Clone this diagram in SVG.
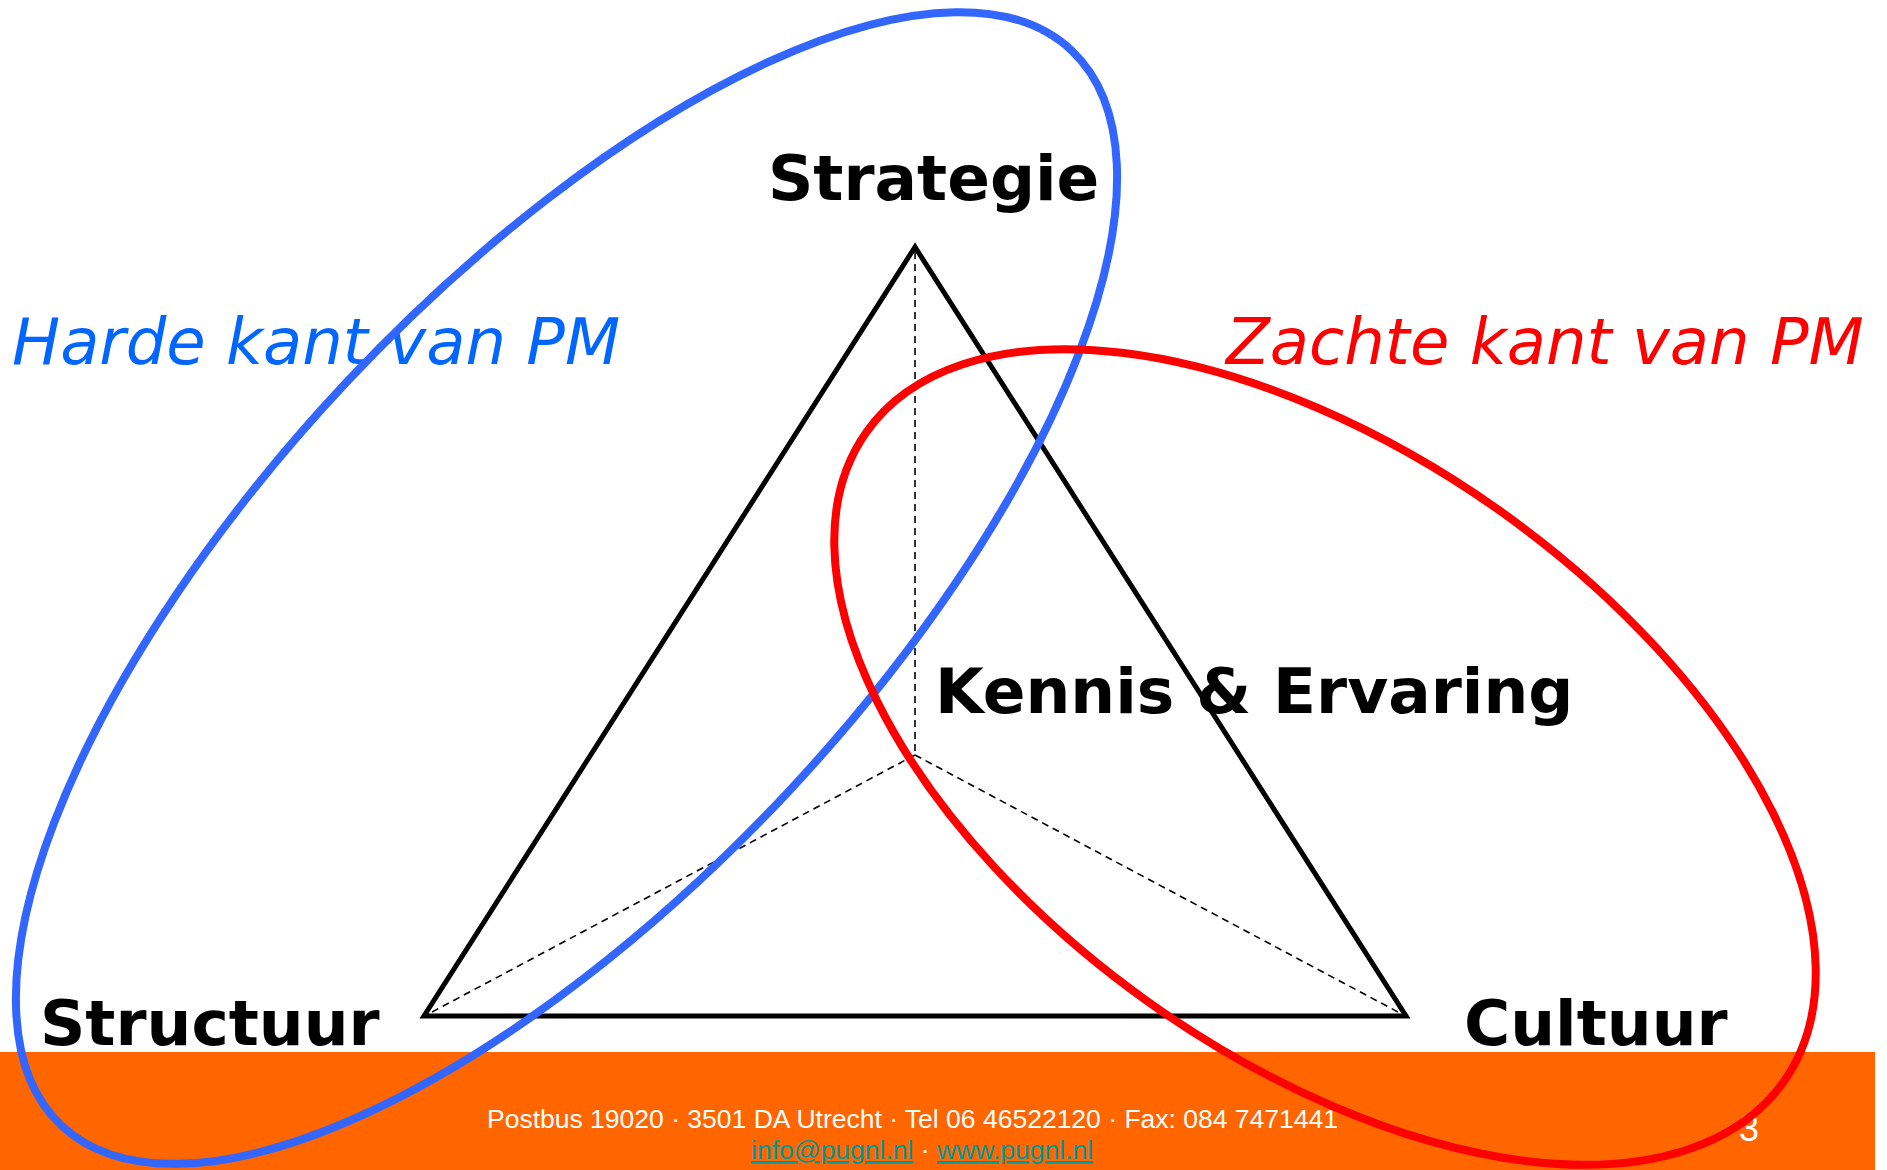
<svg xmlns="http://www.w3.org/2000/svg" width="1887" height="1170" viewBox="0 0 1887 1170">
<style>
.lbl{font-family:"DejaVu Sans",Verdana,sans-serif;font-weight:bold;font-size:63px;fill:#000}
.side{font-family:"DejaVu Sans",Verdana,sans-serif;font-style:italic;font-size:64px}
.foot{font-family:"Liberation Sans",Arial,sans-serif;font-size:26.5px;fill:#fff}
.link{fill:#009999;text-decoration:underline}
.dash{stroke:#000;stroke-width:1.6;stroke-dasharray:7 5;fill:none}
</style>
<rect width="1887" height="1170" fill="#fff"/>
<rect id="footer-band" x="0" y="1052" width="1875" height="118" fill="#FF6600"/>
<g id="footer">
<text class="foot" x="487" y="1128">Postbus 19020 · 3501 DA Utrecht · Tel 06 46522120 · Fax: 084 7471441</text>
<text class="foot" x="751" y="1159"><tspan class="link">info@pugnl.nl</tspan> · <tspan class="link">www.pugnl.nl</tspan></text>
<text class="foot" x="1739" y="1141" style="font-size:36px">3</text>
</g>
<g id="connectors">
<polygon points="915,247 424,1016 1406,1016" fill="none" stroke="#000" stroke-width="5" stroke-linejoin="miter"/>
<line class="dash" x1="915" y1="252" x2="915" y2="755"/>
<line class="dash" x1="915" y1="755" x2="432" y2="1012"/>
<line class="dash" x1="915" y1="755" x2="1398" y2="1012"/>
</g>
<g id="node-strategie"><text class="lbl" x="768" y="200">Strategie</text></g>
<g id="node-kennis"><text class="lbl" x="935" y="713">Kennis &amp; Ervaring</text></g>
<g id="node-structuur"><text class="lbl" x="40" y="1045">Structuur</text></g>
<g id="node-cultuur"><text class="lbl" x="1464" y="1045">Cultuur</text></g>
<g id="label-harde"><text class="side" x="12" y="364" fill="#0066FF">Harde kant van PM</text></g>
<g id="label-zachte"><text class="side" x="1226" y="364" fill="#FF0000">Zachte kant van PM</text></g>
<g id="ellipse-harde"><ellipse cx="566.5" cy="588" rx="737.6" ry="301.2" transform="rotate(-46.8 566.5 588)" fill="none" stroke="#3366FF" stroke-width="8"/></g>
<g id="ellipse-zachte"><ellipse cx="1325" cy="757" rx="562" ry="302" transform="rotate(35.3 1325 757)" fill="none" stroke="#FF0000" stroke-width="8"/></g>
</svg>
